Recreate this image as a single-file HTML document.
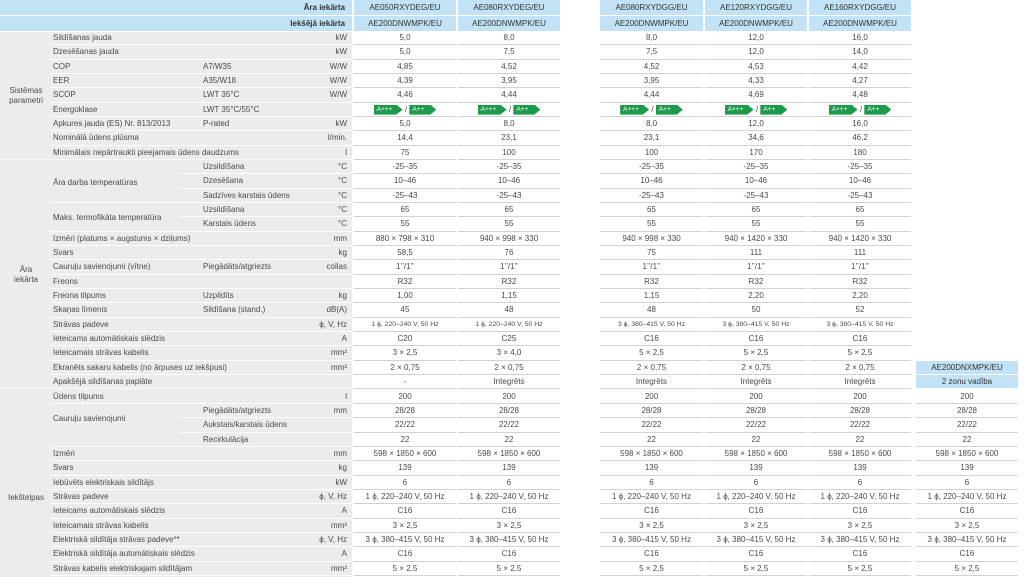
<!DOCTYPE html>
<html><head><meta charset="utf-8">
<style>
*{margin:0;padding:0;box-sizing:border-box}
body{width:1024px;height:577px;background:#fff;position:relative;overflow:hidden;font-family:"Liberation Sans",Arial,sans-serif;color:#4a4a4a}
.bg{position:absolute;left:0;top:32px;width:352px;height:545px;background:#ececec}
.h{position:absolute;height:15px;line-height:15px;font-size:8px;background:#c2e2f5;color:#333;text-align:center;white-space:nowrap}
.hl{left:0;width:352px;text-align:right;padding-right:7px;font-weight:bold}
.r{position:absolute;left:0;width:1024px;height:14.34px}
.r::before{content:"";position:absolute;left:50px;width:302px;bottom:0;height:1px;background:#fff}
.r.g::before{left:180px;width:172px}
.r.sec::before{left:0;width:352px;background:#fafafa}
.l,.s,.u,.c{position:absolute;top:0;height:14px;line-height:14px;font-size:8px;white-space:nowrap}
.l{left:53px}.s{left:203px}
.u{left:280px;width:67px;text-align:right}
.c{text-align:center;background:#fff;border-bottom:1px solid #d2d2d2;height:14.34px}
.c1{left:354px;width:102px}.c2{left:458px;width:102px}.c3{left:600px;width:103px}.c4{left:705px;width:102px}.c5{left:809px;width:102px}.c6{left:916px;width:102px}
.sm{font-size:6.8px}
.hb{background:#c2e2f5;border-bottom:1px solid #fff;color:#333}
.sl{position:absolute;left:0;width:52px;text-align:center;font-size:8px;line-height:10px}
.gl{position:absolute;left:53px;font-size:8px;line-height:10px}
.t{display:inline-block;height:10px;line-height:10px;color:#fff;background:#1e9a4c;font-size:6.5px;text-align:left;padding-left:3px;vertical-align:middle;clip-path:polygon(0 0,78% 0,100% 50%,78% 100%,0 100%)}
.t1{width:29px}.t2{width:27px}
</style></head><body>
<div class="bg"></div>
<div class="h hl" style="top:0">Āra iekārta</div>
<div class="h hl" style="top:16px">Iekšējā iekārta</div>
<div class="h" style="top:0;left:354px;width:102px">AE050RXYDEG/EU</div>
<div class="h" style="top:0;left:458px;width:102px">AE080RXYDEG/EU</div>
<div class="h" style="top:0;left:600px;width:103px">AE080RXYDGG/EU</div>
<div class="h" style="top:0;left:705px;width:102px">AE120RXYDGG/EU</div>
<div class="h" style="top:0;left:809px;width:102px">AE160RXYDGG/EU</div>
<div class="h" style="top:16px;left:354px;width:102px">AE200DNWMPK/EU</div>
<div class="h" style="top:16px;left:458px;width:102px">AE200DNWMPK/EU</div>
<div class="h" style="top:16px;left:600px;width:103px">AE200DNWMPK/EU</div>
<div class="h" style="top:16px;left:705px;width:102px">AE200DNWMPK/EU</div>
<div class="h" style="top:16px;left:809px;width:102px">AE200DNWMPK/EU</div>

<div class="sl" style="top:86px">Sistēmas<br>parametri</div>
<div class="sl" style="top:265px">Āra<br>iekārta</div>
<div class="sl" style="top:493px">Iekštelpas</div>
<div class="gl" style="top:178px">Āra darba temperatūras</div>
<div class="gl" style="top:213px">Maks. termofikāta temperatūra</div>
<div class="gl" style="top:414px">Cauruļu savienojumi</div>

<div class="r" style="top:31px"><span class="l">Sildīšanas jauda</span><span class="u">kW</span><span class="c c1">5,0</span><span class="c c2">8,0</span><span class="c c3">8,0</span><span class="c c4">12,0</span><span class="c c5">16,0</span></div>
<div class="r" style="top:45.34px"><span class="l">Dzesēšanas jauda</span><span class="u">kW</span><span class="c c1">5,0</span><span class="c c2">7,5</span><span class="c c3">7,5</span><span class="c c4">12,0</span><span class="c c5">14,0</span></div>
<div class="r" style="top:59.68px"><span class="l">COP</span><span class="s">A7/W35</span><span class="u">W/W</span><span class="c c1">4,85</span><span class="c c2">4,52</span><span class="c c3">4,52</span><span class="c c4">4,53</span><span class="c c5">4,42</span></div>
<div class="r" style="top:74.02px"><span class="l">EER</span><span class="s">A35/W18</span><span class="u">W/W</span><span class="c c1">4,39</span><span class="c c2">3,95</span><span class="c c3">3,95</span><span class="c c4">4,33</span><span class="c c5">4,27</span></div>
<div class="r" style="top:88.36px"><span class="l">SCOP</span><span class="s">LWT 35°C</span><span class="u">W/W</span><span class="c c1">4,46</span><span class="c c2">4,44</span><span class="c c3">4,44</span><span class="c c4">4,69</span><span class="c c5">4,48</span></div>
<div class="r" style="top:102.7px"><span class="l">Energoklase</span><span class="s">LWT 35°C/55°C</span><span class="c c1"><span class="t t1">A+++</span> / <span class="t t2">A++</span></span><span class="c c2"><span class="t t1">A+++</span> / <span class="t t2">A++</span></span><span class="c c3"><span class="t t1">A+++</span> / <span class="t t2">A++</span></span><span class="c c4"><span class="t t1">A+++</span> / <span class="t t2">A++</span></span><span class="c c5"><span class="t t1">A+++</span> / <span class="t t2">A++</span></span></div>
<div class="r" style="top:117.04px"><span class="l">Apkures jauda (ES) Nr. 813/2013</span><span class="s">P-rated</span><span class="u">kW</span><span class="c c1">5,0</span><span class="c c2">8,0</span><span class="c c3">8,0</span><span class="c c4">12,0</span><span class="c c5">16,0</span></div>
<div class="r" style="top:131.38px"><span class="l">Nominālā ūdens plūsma</span><span class="u">l/min.</span><span class="c c1">14,4</span><span class="c c2">23,1</span><span class="c c3">23,1</span><span class="c c4">34,6</span><span class="c c5">46,2</span></div>
<div class="r sec" style="top:145.72px"><span class="l">Minimālais nepārtraukti pieejamais ūdens daudzums</span><span class="u">l</span><span class="c c1">75</span><span class="c c2">100</span><span class="c c3">100</span><span class="c c4">170</span><span class="c c5">180</span></div>
<div class="r g" style="top:160.06px"><span class="s">Uzsildīšana</span><span class="u">°C</span><span class="c c1">-25–35</span><span class="c c2">-25–35</span><span class="c c3">-25–35</span><span class="c c4">-25–35</span><span class="c c5">-25–35</span></div>
<div class="r g" style="top:174.4px"><span class="s">Dzesēšana</span><span class="u">°C</span><span class="c c1">10–46</span><span class="c c2">10–46</span><span class="c c3">10–46</span><span class="c c4">10–46</span><span class="c c5">10–46</span></div>
<div class="r" style="top:188.74px"><span class="s">Sadzīves karstais ūdens</span><span class="u">°C</span><span class="c c1">-25–43</span><span class="c c2">-25–43</span><span class="c c3">-25–43</span><span class="c c4">-25–43</span><span class="c c5">-25–43</span></div>
<div class="r g" style="top:203.08px"><span class="s">Uzsildīšana</span><span class="u">°C</span><span class="c c1">65</span><span class="c c2">65</span><span class="c c3">65</span><span class="c c4">65</span><span class="c c5">65</span></div>
<div class="r" style="top:217.42px"><span class="s">Karstais ūdens</span><span class="u">°C</span><span class="c c1">55</span><span class="c c2">55</span><span class="c c3">55</span><span class="c c4">55</span><span class="c c5">55</span></div>
<div class="r" style="top:231.76px"><span class="l">Izmēri (platums × augstums × dziļums)</span><span class="u">mm</span><span class="c c1">880 × 798 × 310</span><span class="c c2">940 × 998 × 330</span><span class="c c3">940 × 998 × 330</span><span class="c c4">940 × 1420 × 330</span><span class="c c5">940 × 1420 × 330</span></div>
<div class="r" style="top:246.1px"><span class="l">Svars</span><span class="u">kg</span><span class="c c1">58,5</span><span class="c c2">76</span><span class="c c3">75</span><span class="c c4">111</span><span class="c c5">111</span></div>
<div class="r" style="top:260.44px"><span class="l">Cauruļu savienojumi (vītne)</span><span class="s">Piegādāts/atgriezts</span><span class="u">collas</span><span class="c c1">1’’/1’’</span><span class="c c2">1’’/1’’</span><span class="c c3">1’’/1’’</span><span class="c c4">1’’/1’’</span><span class="c c5">1’’/1’’</span></div>
<div class="r" style="top:274.78px"><span class="l">Freons</span><span class="c c1">R32</span><span class="c c2">R32</span><span class="c c3">R32</span><span class="c c4">R32</span><span class="c c5">R32</span></div>
<div class="r" style="top:289.12px"><span class="l">Freona tilpums</span><span class="s">Uzpildīts</span><span class="u">kg</span><span class="c c1">1,00</span><span class="c c2">1,15</span><span class="c c3">1,15</span><span class="c c4">2,20</span><span class="c c5">2,20</span></div>
<div class="r" style="top:303.46px"><span class="l">Skaņas līmenis</span><span class="s">Sildīšana (stand.)</span><span class="u">dB(A)</span><span class="c c1">45</span><span class="c c2">48</span><span class="c c3">48</span><span class="c c4">50</span><span class="c c5">52</span></div>
<div class="r" style="top:317.8px"><span class="l">Strāvas padeve</span><span class="u">ϕ, V, Hz</span><span class="c c1 sm">1 ϕ, 220–240 V, 50 Hz</span><span class="c c2 sm">1 ϕ, 220–240 V, 50 Hz</span><span class="c c3 sm">3 ϕ, 380–415 V, 50 Hz</span><span class="c c4 sm">3 ϕ, 380–415 V, 50 Hz</span><span class="c c5 sm">3 ϕ, 380–415 V, 50 Hz</span></div>
<div class="r" style="top:332.14px"><span class="l">Ieteicams automātiskais slēdzis</span><span class="u">A</span><span class="c c1">C20</span><span class="c c2">C25</span><span class="c c3">C16</span><span class="c c4">C16</span><span class="c c5">C16</span></div>
<div class="r" style="top:346.48px"><span class="l">Ieteicamais strāvas kabelis</span><span class="u">mm²</span><span class="c c1">3 × 2,5</span><span class="c c2">3 × 4,0</span><span class="c c3">5 × 2,5</span><span class="c c4">5 × 2,5</span><span class="c c5">5 × 2,5</span></div>
<div class="r" style="top:360.82px"><span class="l">Ekranēts sakaru kabelis (no ārpuses uz iekšpusi)</span><span class="u">mm²</span><span class="c c1">2 × 0,75</span><span class="c c2">2 × 0,75</span><span class="c c3">2 × 0,75</span><span class="c c4">2 × 0,75</span><span class="c c5">2 × 0,75</span><span class="c c6 hb">AE200DNXMPK/EU</span></div>
<div class="r sec" style="top:375.16px"><span class="l">Apakšējā sildīšanas paplāte</span><span class="c c1">-</span><span class="c c2">Integrēts</span><span class="c c3">Integrēts</span><span class="c c4">Integrēts</span><span class="c c5">Integrēts</span><span class="c c6 hb">2 zonu vadība</span></div>
<div class="r" style="top:389.5px"><span class="l">Ūdens tilpums</span><span class="u">l</span><span class="c c1">200</span><span class="c c2">200</span><span class="c c3">200</span><span class="c c4">200</span><span class="c c5">200</span><span class="c c6">200</span></div>
<div class="r g" style="top:403.84px"><span class="s">Piegādāts/atgriezts</span><span class="u">mm</span><span class="c c1">28/28</span><span class="c c2">28/28</span><span class="c c3">28/28</span><span class="c c4">28/28</span><span class="c c5">28/28</span><span class="c c6">28/28</span></div>
<div class="r g" style="top:418.18px"><span class="s">Aukstais/karstais ūdens</span><span class="c c1">22/22</span><span class="c c2">22/22</span><span class="c c3">22/22</span><span class="c c4">22/22</span><span class="c c5">22/22</span><span class="c c6">22/22</span></div>
<div class="r" style="top:432.52px"><span class="s">Recirkulācija</span><span class="c c1">22</span><span class="c c2">22</span><span class="c c3">22</span><span class="c c4">22</span><span class="c c5">22</span><span class="c c6">22</span></div>
<div class="r" style="top:446.86px"><span class="l">Izmēri</span><span class="u">mm</span><span class="c c1">598 × 1850 × 600</span><span class="c c2">598 × 1850 × 600</span><span class="c c3">598 × 1850 × 600</span><span class="c c4">598 × 1850 × 600</span><span class="c c5">598 × 1850 × 600</span><span class="c c6">598 × 1850 × 600</span></div>
<div class="r" style="top:461.2px"><span class="l">Svars</span><span class="u">kg</span><span class="c c1">139</span><span class="c c2">139</span><span class="c c3">139</span><span class="c c4">139</span><span class="c c5">139</span><span class="c c6">139</span></div>
<div class="r" style="top:475.54px"><span class="l">Iebūvēts elektriskais sildītājs</span><span class="u">kW</span><span class="c c1">6</span><span class="c c2">6</span><span class="c c3">6</span><span class="c c4">6</span><span class="c c5">6</span><span class="c c6">6</span></div>
<div class="r" style="top:489.88px"><span class="l">Strāvas padeve</span><span class="u">ϕ, V, Hz</span><span class="c c1">1 ϕ, 220–240 V, 50 Hz</span><span class="c c2">1 ϕ, 220–240 V, 50 Hz</span><span class="c c3">1 ϕ, 220–240 V, 50 Hz</span><span class="c c4">1 ϕ, 220–240 V, 50 Hz</span><span class="c c5">1 ϕ, 220–240 V, 50 Hz</span><span class="c c6">1 ϕ, 220–240 V, 50 Hz</span></div>
<div class="r" style="top:504.22px"><span class="l">Ieteicams automātiskais slēdzis</span><span class="u">A</span><span class="c c1">C16</span><span class="c c2">C16</span><span class="c c3">C16</span><span class="c c4">C16</span><span class="c c5">C16</span><span class="c c6">C16</span></div>
<div class="r" style="top:518.56px"><span class="l">Ieteicamais strāvas kabelis</span><span class="u">mm²</span><span class="c c1">3 × 2,5</span><span class="c c2">3 × 2,5</span><span class="c c3">3 × 2,5</span><span class="c c4">3 × 2,5</span><span class="c c5">3 × 2,5</span><span class="c c6">3 × 2,5</span></div>
<div class="r" style="top:532.9px"><span class="l">Elektriskā sildītāja strāvas padeve**</span><span class="u">ϕ, V, Hz</span><span class="c c1">3 ϕ, 380–415 V, 50 Hz</span><span class="c c2">3 ϕ, 380–415 V, 50 Hz</span><span class="c c3">3 ϕ, 380–415 V, 50 Hz</span><span class="c c4">3 ϕ, 380–415 V, 50 Hz</span><span class="c c5">3 ϕ, 380–415 V, 50 Hz</span><span class="c c6">3 ϕ, 380–415 V, 50 Hz</span></div>
<div class="r" style="top:547.24px"><span class="l">Elektriskā sildītāja automātiskais slēdzis</span><span class="u">A</span><span class="c c1">C16</span><span class="c c2">C16</span><span class="c c3">C16</span><span class="c c4">C16</span><span class="c c5">C16</span><span class="c c6">C16</span></div>
<div class="r" style="top:561.58px"><span class="l">Strāvas kabelis elektriskajam sildītājam</span><span class="u">mm²</span><span class="c c1">5 × 2,5</span><span class="c c2">5 × 2,5</span><span class="c c3">5 × 2,5</span><span class="c c4">5 × 2,5</span><span class="c c5">5 × 2,5</span><span class="c c6">5 × 2,5</span></div>
</body></html>
